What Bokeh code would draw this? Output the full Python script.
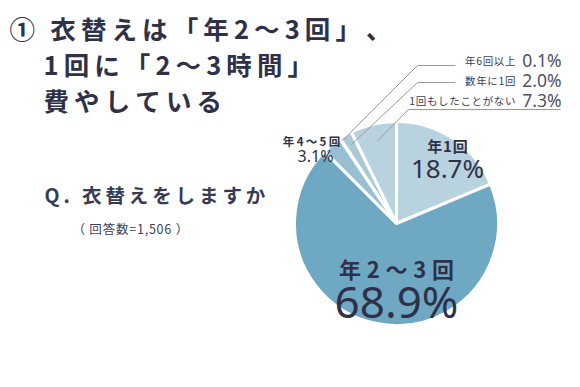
import math
from bokeh.plotting import figure
from bokeh.models import Range1d, ColumnDataSource
from bokeh.core.properties import value
from bokeh.embed import file_html
from bokeh.resources import INLINE

# ---- data ----
categories = ["年1回", "年2～3回", "年4～5回", "年6回以上", "数年に1回", "1回もしたことがない"]
shares = [18.7, 68.9, 3.1, 0.1, 2.0, 7.3]
slice_colors = ["#b8d3df", "#6ea8c2", "#98c0d2", "#a9c9d7", "#a9c9d7", "#b8d3df"]
title_lines = ["①\u2009衣替えは「年2～3回」、", "1回に「2～3時間」", "費やしている"]
question = "Q. 衣替えをしますか"
respondents = "（ 回答数=1,506 ）"

W, H = 564, 371
CJK = "Noto Sans CJK JP"
NUM = "Noto Sans"
NAVY = "#2f3149"


def X(ix):
    return ix


def Y(iy):
    return H - iy


def spaced(s, sep="\u200a"):
    return sep.join(list(s))


p = figure(width=W, height=H, output_backend="svg", toolbar_location=None,
           x_range=Range1d(0, W), y_range=Range1d(0, H), min_border=0)
p.axis.visible = False
p.grid.visible = False
p.outline_line_color = None
p.background_fill_color = "white"
p.border_fill_color = "white"

# ---- pie ----
cx, cy, R = X(396), Y(223), 102
total = sum(shares)
starts, ends, mids = [], [], []
acc = 0.0
for s in shares:
    a0 = acc / total * 2 * math.pi
    acc += s
    a1 = acc / total * 2 * math.pi
    # clockwise from 12 o'clock
    starts.append(math.pi / 2 - a1)
    ends.append(math.pi / 2 - a0)
    mids.append((a0 + a1) / 2)

src = ColumnDataSource(dict(start=starts, end=ends, color=slice_colors, cat=categories))
p.wedge(x=cx, y=cy, radius=R, start_angle="start", end_angle="end",
        fill_color="color", line_color="white", line_width=3, source=src)

# ---- leader lines for small slices ----
leader_idx = [3, 4, 5]
leader_r = [0.97, 0.89, 0.83]
elbow_iy = [65, 82, 109]
elbow_ix = [417, 417, 408]
end_ix = [455, 455, 560]
for k, i in enumerate(leader_idx):
    th = mids[i]
    x0 = cx + R * leader_r[k] * math.sin(th)
    y0 = cy + R * leader_r[k] * math.cos(th)
    p.line([x0, X(elbow_ix[k]), X(end_ix[k])], [y0, Y(elbow_iy[k]), Y(elbow_iy[k])],
           line_color="#9a9a9a", line_width=1)

label_iy = [60, 80, 100]
for k, i in enumerate(leader_idx):
    p.text(x=[X(515)], y=[Y(label_iy[k])], text=[spaced(categories[i])],
           text_font=value(CJK), text_font_size="10.5px", text_color="#3d4058",
           text_align="right", text_baseline="middle")
    p.text(x=[X(561)], y=[Y(label_iy[k] - 1)], text=[f"{shares[i]:.1f}%"],
           text_font=value(NUM), text_font_size="17.5px", text_color="#4e5169",
           text_align="right", text_baseline="middle")

# ---- labels inside / near the pie ----
p.text(x=[X(447)], y=[Y(145)], text=[spaced(categories[0])], text_font=value(CJK),
       text_font_size="15px", text_font_style="bold", text_color=NAVY,
       text_align="center", text_baseline="middle")
p.text(x=[X(447)], y=[Y(167)], text=[f"{shares[0]:.1f}%"], text_font=value(NUM),
       text_font_size="26px", text_color=NAVY, text_align="center", text_baseline="middle")

p.text(x=[X(396)], y=[Y(267)], text=[spaced(categories[1], "\u2009\u200a")], text_font=value(CJK),
       text_font_size="22px", text_font_style="bold", text_color=NAVY,
       text_align="center", text_baseline="middle")
p.text(x=[X(396)], y=[Y(300)], text=[f"{shares[1]:.1f}%"], text_font=value(NUM),
       text_font_size="44px", text_color=NAVY, text_align="center", text_baseline="middle")

p.text(x=[X(311)], y=[Y(140)], text=[spaced(categories[2], "\u2009")], text_font=value(CJK),
       text_font_size="11.5px", text_font_style="bold", text_color=NAVY,
       text_align="center", text_baseline="middle")
p.text(x=[X(315)], y=[Y(155)], text=[f"{shares[2]:.1f}%"], text_font=value(NUM),
       text_font_size="16px", text_color=NAVY, text_align="center", text_baseline="middle")

# ---- titles ----
title_ix = [9, 43, 43]
title_iy = [27, 63, 99]
for t, ix, iy in zip(title_lines, title_ix, title_iy):
    p.text(x=[X(ix)], y=[Y(iy)], text=[spaced(t, "\u2009")], text_font=value(CJK),
           text_font_size="25.5px", text_font_style="bold", text_color=NAVY,
           text_align="left", text_baseline="middle")

p.text(x=[X(44)], y=[Y(194)], text=[spaced(question, "\u2009")], text_font=value(CJK),
       text_font_size="19.5px", text_font_style="bold", text_color="#383b55",
       text_align="left", text_baseline="middle")
p.text(x=[X(72)], y=[Y(228)], text=[spaced(respondents, "\u200a")], text_font=value(CJK),
       text_font_size="12.5px", text_color="#3d4058",
       text_align="left", text_baseline="middle")

open("out.html", "w").write(file_html(p, INLINE))
